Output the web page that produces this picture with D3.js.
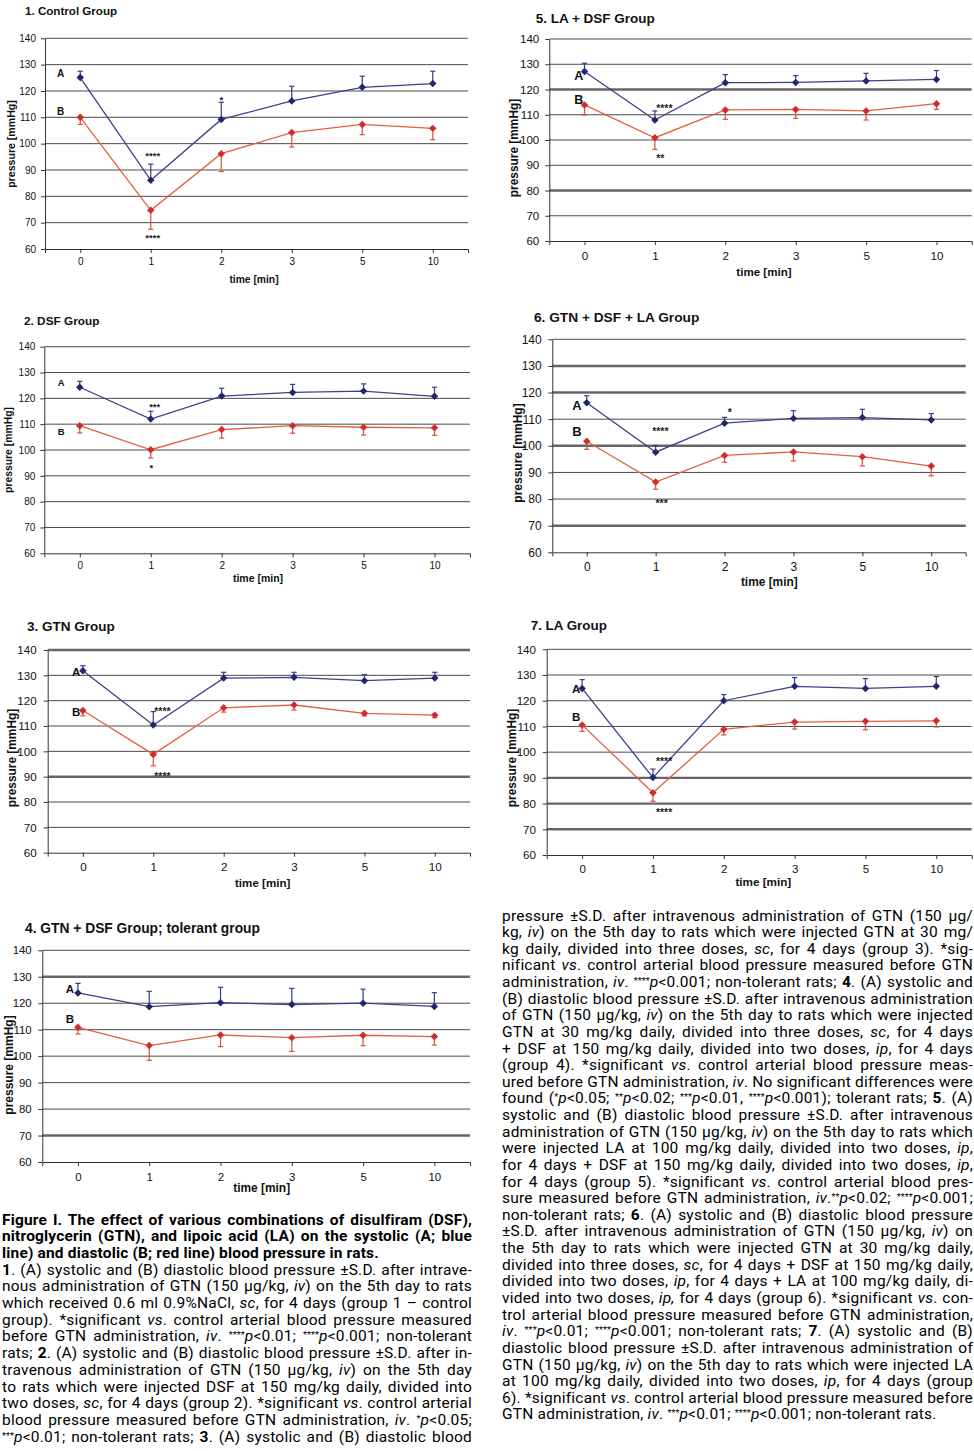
<!DOCTYPE html>
<html><head><meta charset="utf-8">
<script src="https://cdn.jsdelivr.net/npm/d3@7"></script>
<style>
body{margin:0;background:#fff;}
#wrap{position:relative;width:974px;height:1451px;overflow:hidden;background:#fff;}
svg{position:absolute;left:0;top:0;}
.cap{position:absolute;white-space:nowrap;font-family:Roboto,"Open Sans",sans-serif;font-size:14.1px;letter-spacing:0.2px;line-height:16.5px;color:#000;transform-origin:0 50%;}
.cap.head{letter-spacing:0.15px;}
.cap sup{font-size:0.6em;vertical-align:0.35em;line-height:0;letter-spacing:0;}
</style></head><body><div id="wrap"><svg id="chart" width="974" height="1451"></svg></div>
<script>
// ---------- data ----------
const times = ["0", "1", "2", "3", "5", "10"];
const yTicks = [60, 70, 80, 90, 100, 110, 120, 130, 140];
const panelTitles = ["1. Control Group", "2. DSF Group", "3. GTN Group",
  "4. GTN + DSF Group; tolerant group", "5. LA + DSF Group",
  "6. GTN + DSF + LA Group", "7. LA Group"];
const xAxisTitle = "time [min]";
const yAxisTitle = "pressure [mmHg]";
const seriesNames = ["A", "B"];

const systolic1 = [125.1, 86.1, 109.2, 116.2, 121.4, 122.8];
const systolicSD1 = [2.4, 6.1, 6.5, 5.6, 4.2, 4.7];
const diastolic1 = [110.0, 74.7, 96.2, 104.2, 107.3, 105.8];
const diastolicSD1 = [2.7, 7.2, 6.8, 5.5, 3.9, 4.3];
const stars1 = [["A", "1", "****", 96.0], ["A", "2", "*", 117.6], ["B", "1", "****", 65.1]];

const systolic2 = [124.3, 112.0, 120.9, 122.3, 122.8, 120.8];
const systolicSD2 = [2.3, 3.0, 3.0, 3.1, 2.8, 3.5];
const diastolic2 = [109.4, 100.1, 107.9, 109.4, 108.8, 108.6];
const diastolicSD2 = [2.8, 3.2, 3.3, 2.9, 3.0, 2.9];
const stars2 = [["A", "1", "***", 117.7], ["B", "1", "*", 93.8]];

const systolic3 = [131.8, 110.4, 128.9, 129.2, 127.9, 128.9];
const systolicSD3 = [2.0, 5.3, 2.3, 2.0, 2.4, 2.3];
const diastolic3 = [116.1, 98.8, 117.2, 118.3, 115.0, 114.3];
const diastolicSD3 = [2.1, 4.5, 1.7, 2.0, 1.0, 1.0];
const stars3 = [["A", "1", "****", 116.7], ["B", "1", "****", 91.1]];

const systolic4 = [123.9, 118.7, 120.2, 119.5, 120.0, 118.8];
const systolicSD4 = [3.6, 5.8, 5.8, 6.1, 5.3, 5.2];
const diastolic4 = [110.9, 104.0, 108.0, 107.0, 107.9, 107.4];
const diastolicSD4 = [2.5, 5.6, 4.4, 5.2, 3.9, 3.2];
const stars4 = [];

const systolic5 = [127.1, 107.9, 122.7, 122.8, 123.4, 124.0];
const systolicSD5 = [3.3, 3.6, 3.2, 2.7, 3.0, 3.5];
const diastolic5 = [113.9, 100.9, 111.9, 112.1, 111.5, 114.4];
const diastolicSD5 = [4.0, 4.6, 3.7, 3.5, 3.6, 2.3];
const stars5 = [["A", "1", "****", 113.5], ["B", "1", "**", 93.7]];

const systolic6 = [116.2, 97.6, 108.5, 110.3, 110.6, 109.7];
const systolicSD6 = [2.6, 2.5, 2.2, 2.9, 3.1, 2.4];
const diastolic6 = [101.7, 86.4, 96.4, 97.7, 95.9, 92.4];
const diastolicSD6 = [3.0, 2.7, 2.6, 3.4, 3.5, 3.7];
const stars6 = [["A", "1", "****", 106.2], ["A", "2", "*", 113.5], ["B", "1", "***", 79.0]];

const systolic7 = [124.8, 90.1, 120.0, 125.6, 124.8, 125.6];
const systolicSD7 = [3.4, 3.3, 2.4, 3.4, 3.8, 3.8];
const diastolic7 = [110.6, 84.2, 108.9, 111.7, 112.0, 112.2];
const diastolicSD7 = [2.5, 3.3, 2.2, 2.7, 3.3, 2.4];
const stars7 = [["A", "1", "****", 97.3], ["B", "1", "****", 77.4]];

const captionLeft = [
  "<b>Figure I. The effect of various combinations of disulfiram (DSF),</b>",
  "<b>nitroglycerin (GTN), and lipoic acid (LA) on the systolic (A; blue</b>",
  "<b>line) and diastolic (B; red line) blood pressure in rats.</b>",
  "<b>1</b>. (A) systolic and (B) diastolic blood pressure ±S.D. after intrave-",
  "nous administration of GTN (150 µg/kg, <i>iv</i>) on the 5th day to rats",
  "which received 0.6 ml 0.9%NaCl, <i>sc</i>, for 4 days (group 1 – control",
  "group). *significant <i>vs</i>. control arterial blood pressure measured",
  "before GTN administration, <i>iv</i>. <sup>****</sup><i>p</i>&lt;0.01; <sup>****</sup><i>p</i>&lt;0.001; non-tolerant",
  "rats; <b>2</b>. (A) systolic and (B) diastolic blood pressure ±S.D. after in-",
  "travenous administration of GTN (150 µg/kg, <i>iv</i>) on the 5th day",
  "to rats which were injected DSF at 150 mg/kg daily, divided into",
  "two doses, <i>sc</i>, for 4 days (group 2). *significant <i>vs</i>. control arterial",
  "blood pressure measured before GTN administration, <i>iv</i>. <sup>*</sup><i>p</i>&lt;0.05;",
  "<sup>***</sup><i>p</i>&lt;0.01; non-tolerant rats; <b>3</b>. (A) systolic and (B) diastolic blood"
];
const captionLeftHeadLines = [0, 1, 2];
const captionLeftUnjustified = [2];
const captionRight = [
  "pressure ±S.D. after intravenous administration of GTN (150 µg/",
  "kg, <i>iv</i>) on the 5th day to rats which were injected GTN at 30 mg/",
  "kg daily, divided into three doses, <i>sc</i>, for 4 days (group 3). *sig-",
  "nificant <i>vs</i>. control arterial blood pressure measured before GTN",
  "administration, <i>iv</i>. <sup>****</sup><i>p</i>&lt;0.001; non-tolerant rats; <b>4</b>. (A) systolic and",
  "(B) diastolic blood pressure ±S.D. after intravenous administration",
  "of GTN (150 µg/kg, <i>iv</i>) on the 5th day to rats which were injected",
  "GTN at 30 mg/kg daily, divided into three doses, <i>sc</i>, for 4 days",
  "+ DSF at 150 mg/kg daily, divided into two doses, <i>ip</i>, for 4 days",
  "(group 4). *significant <i>vs</i>. control arterial blood pressure meas-",
  "ured before GTN administration, <i>iv</i>. No significant differences were",
  "found (<sup>*</sup><i>p</i>&lt;0.05; <sup>**</sup><i>p</i>&lt;0.02; <sup>***</sup><i>p</i>&lt;0.01, <sup>****</sup><i>p</i>&lt;0.001); tolerant rats; <b>5</b>. (A)",
  "systolic and (B) diastolic blood pressure ±S.D. after intravenous",
  "administration of GTN (150 µg/kg, <i>iv</i>) on the 5th day to rats which",
  "were injected LA at 100 mg/kg daily, divided into two doses, <i>ip</i>,",
  "for 4 days + DSF at 150 mg/kg daily, divided into two doses, <i>ip</i>,",
  "for 4 days (group 5). *significant <i>vs</i>. control arterial blood pres-",
  "sure measured before GTN administration, <i>iv</i>.<sup>**</sup><i>p</i>&lt;0.02; <sup>****</sup><i>p</i>&lt;0.001;",
  "non-tolerant rats; <b>6</b>. (A) systolic and (B) diastolic blood pressure",
  "±S.D. after intravenous administration of GTN (150 µg/kg, <i>iv</i>) on",
  "the 5th day to rats which were injected GTN at 30 mg/kg daily,",
  "divided into three doses, <i>sc</i>, for 4 days + DSF at 150 mg/kg daily,",
  "divided into two doses, <i>ip</i>, for 4 days + LA at 100 mg/kg daily, di-",
  "vided into two doses, <i>ip,</i> for 4 days (group 6). *significant <i>vs</i>. con-",
  "trol arterial blood pressure measured before GTN administration,",
  "<i>iv</i>. <sup>***</sup><i>p</i>&lt;0.01; <sup>****</sup><i>p</i>&lt;0.001; non-tolerant rats; <b>7</b>. (A) systolic and (B)",
  "diastolic blood pressure ±S.D. after intravenous administration of",
  "GTN (150 µg/kg, <i>iv</i>) on the 5th day to rats which were injected LA",
  "at 100 mg/kg daily, divided into two doses, <i>ip</i>, for 4 days (group",
  "6). *significant <i>vs</i>. control arterial blood pressure measured before",
  "GTN administration, <i>iv</i>. <sup>***</sup><i>p</i>&lt;0.01; <sup>****</sup><i>p</i>&lt;0.001; non-tolerant rats."
];
const captionRightUnjustified = [30];

// ---------- layout (positions / styles only) ----------
const FONT = "'Liberation Sans', Arial, sans-serif";
const panels = [
  {title: panelTitles[0], sys: systolic1, sysSD: systolicSD1, dia: diastolic1, diaSD: diastolicSD1, stars: stars1,
   left: 45, right: 468, top: 38.3, bottom: 249, titlePos: [25, 11], titleFont: 11.6,
   tickFont: 10, yPad: 5, xLabOff: 12, xTitle: [254, 279], xTitleFont: 10.3, yTitle: [11, 144], yTitleFont: 10.6,
   labFont: 10, labA: [-19.7, -4.5], labB: [-19.7, -6.3], starFont: 9.5,
   starDx: {"A1": [2, "middle"], "A2": [0, "middle"], "B1": [2, "middle"]}, thick: []},
  {title: panelTitles[1], sys: systolic2, sysSD: systolicSD2, dia: diastolic2, diaSD: diastolicSD2, stars: stars2,
   left: 44.3, right: 470, top: 346.7, bottom: 553.3, titlePos: [24, 320.7], titleFont: 11.8,
   tickFont: 10, yPad: 5, xLabOff: 12.4, xTitle: [258, 578], xTitleFont: 10.5, yTitle: [8.2, 450], yTitleFont: 10.4,
   labFont: 9.5, labA: [-18.7, -4.5], labB: [-18.7, 6], starFont: 9.5,
   starDx: {"A1": [4, "middle"], "B1": [0.7, "middle"]}, thick: []},
  {title: panelTitles[2], sys: systolic3, sysSD: systolicSD3, dia: diastolic3, diaSD: diastolicSD3, stars: stars3,
   left: 47.7, right: 470, top: 650, bottom: 852.7, titlePos: [27, 626], titleFont: 13.5,
   tickFont: 11.6, yPad: 7, xLabOff: 14, xTitle: [262.7, 882.7], xTitleFont: 11.6, yTitle: [11.3, 758], yTitleFont: 11.9,
   labFont: 11.5, labA: [-6.7, 1.2], labB: [-6.7, 1.1], starFont: 10.5,
   starDx: {"A1": [1, "start"], "B1": [1, "start"]}, thick: [140, 90]},
  {title: panelTitles[3], sys: systolic4, sysSD: systolicSD4, dia: diastolic4, diaSD: diastolicSD4, stars: stars4,
   left: 42.3, right: 470, top: 950.3, bottom: 1162, titlePos: [25, 928], titleFont: 13.8,
   tickFont: 11.4, yPad: 6.6, xLabOff: 14.7, xTitle: [261.7, 1188], xTitleFont: 11.9, yTitle: [9, 1065], yTitleFont: 12,
   labFont: 11.5, labA: [-8, -3.9], labB: [-8, -8.6], starFont: 10.5, starDx: {}, thick: [130, 70]},
  {title: panelTitles[4], sys: systolic5, sysSD: systolicSD5, dia: diastolic5, diaSD: diastolicSD5, stars: stars5,
   left: 549.3, right: 971.7, top: 39, bottom: 241, titlePos: [535.7, 18.3], titleFont: 13.5,
   tickFont: 11.6, yPad: 6, xLabOff: 14.7, xTitle: [764, 271.7], xTitleFont: 11.6, yTitle: [513.3, 148], yTitleFont: 11.9,
   labFont: 12.5, labA: [-5.7, 4.4], labB: [-5.7, -5.9], starFont: 10.5,
   starDx: {"A1": [1.3, "start"], "B1": [1.3, "start"]}, thick: [120, 80]},
  {title: panelTitles[5], sys: systolic6, sysSD: systolicSD6, dia: diastolic6, diaSD: diastolicSD6, stars: stars6,
   left: 552.3, right: 965.7, top: 339.3, bottom: 552.3, titlePos: [534, 316.7], titleFont: 13.7,
   tickFont: 12, yPad: 6.6, xLabOff: 14.4, xTitle: [769.3, 581.7], xTitleFont: 11.9, yTitle: [518, 453], yTitleFont: 12,
   labFont: 13, labA: [-9.7, 2.3], labB: [-9.7, -9.6], starFont: 10.5,
   starDx: {"A1": [4.7, "middle"], "A2": [5.3, "middle"], "B1": [6, "middle"]}, thick: [130, 120, 100, 70]},
  {title: panelTitles[6], sys: systolic7, sysSD: systolicSD7, dia: diastolic7, diaSD: diastolicSD7, stars: stars7,
   left: 546.7, right: 971.7, top: 649.3, bottom: 855, titlePos: [530.7, 625], titleFont: 13.4,
   tickFont: 11.6, yPad: 6.7, xLabOff: 14.3, xTitle: [763.3, 881.7], xTitleFont: 11.7, yTitle: [512, 758], yTitleFont: 11.9,
   labFont: 11.5, labA: [-6, 0], labB: [-6, -8.2], starFont: 10.5,
   starDx: {"A1": [3, "start"], "B1": [3, "start"]}, thick: [90, 80, 70]}
];

const styleA = {line: "#3e3e8e", marker: "#22266a", err: "#3a3a86"};
const styleB = {line: "#e2603e", marker: "#d22b2b", err: "#d9503a"};

const svg = d3.select("#chart");

function drawPanel(p) {
  const g = svg.append("g");
  const x = d3.scalePoint().domain(times).range([p.left, p.right]).padding(0.5);
  const y = d3.scaleLinear().domain([60, 140]).range([p.bottom, p.top]);

  g.append("text").attr("x", p.titlePos[0]).attr("y", p.titlePos[1]).attr("dy", "0.36em")
    .attr("font-family", FONT).attr("font-weight", "bold").attr("font-size", p.titleFont)
    .attr("fill", "#111").text(p.title);

  g.append("g").selectAll("line").data(yTicks.filter(d => d !== 60)).join("line")
    .attr("x1", p.left).attr("x2", p.right)
    .attr("y1", d => y(d)).attr("y2", d => y(d))
    .attr("stroke", d => p.thick.includes(d) ? "#666" : "#4a4a4a")
    .attr("stroke-width", d => p.thick.includes(d) ? 2.4 : 1);

  const ya = g.append("g").attr("transform", `translate(${p.left},0)`)
    .call(d3.axisLeft(y).tickValues(yTicks).tickSize(4).tickSizeOuter(0).tickPadding(p.yPad));
  ya.select(".domain").attr("stroke", "#333");
  ya.selectAll(".tick line").attr("stroke", "#333");
  ya.selectAll("text").attr("font-family", FONT).attr("font-size", p.tickFont).attr("fill", "#111");

  const xa = g.append("g").attr("transform", `translate(0,${p.bottom})`)
    .call(d3.axisBottom(x).tickSize(4).tickSizeOuter(4));
  xa.select(".domain").attr("stroke", "#333");
  xa.selectAll(".tick line").attr("stroke", "#333");
  xa.selectAll("text").attr("font-family", FONT).attr("font-size", p.tickFont).attr("fill", "#111")
    .attr("y", p.xLabOff).attr("dy", "0.36em");

  g.append("text").attr("x", p.xTitle[0]).attr("y", p.xTitle[1]).attr("dy", "0.36em")
    .attr("text-anchor", "middle").attr("font-family", FONT).attr("font-weight", "bold")
    .attr("font-size", p.xTitleFont).attr("fill", "#111").text(xAxisTitle);
  g.append("text").attr("transform", `translate(${p.yTitle[0]},${p.yTitle[1]}) rotate(-90)`)
    .attr("dy", "0.36em").attr("text-anchor", "middle").attr("font-family", FONT)
    .attr("font-weight", "bold").attr("font-size", p.yTitleFont).attr("fill", "#111").text(yAxisTitle);

  const series = [
    {name: seriesNames[0], vals: p.sys, sd: p.sysSD, dir: 1, st: styleA, lab: p.labA},
    {name: seriesNames[1], vals: p.dia, sd: p.diaSD, dir: -1, st: styleB, lab: p.labB}
  ];
  const line = d3.line().x(d => x(d.t)).y(d => y(d.v));
  const diamond = d3.symbol().type(d3.symbolSquare).size(28);

  series.forEach(s => {
    const pts = times.map((t, i) => ({t, v: s.vals[i], sd: s.sd[i]}));
    const sg = g.append("g");
    sg.append("path").datum(pts).attr("d", line).attr("fill", "none")
      .attr("stroke", s.st.line).attr("stroke-width", 1.3);
    const eb = sg.selectAll(".eb").data(pts).join("g");
    eb.append("line").attr("x1", d => x(d.t)).attr("x2", d => x(d.t))
      .attr("y1", d => y(d.v)).attr("y2", d => y(d.v + s.dir * d.sd))
      .attr("stroke", s.st.err).attr("stroke-width", 1.2);
    eb.append("line").attr("x1", d => x(d.t) - 2.6).attr("x2", d => x(d.t) + 2.6)
      .attr("y1", d => y(d.v + s.dir * d.sd)).attr("y2", d => y(d.v + s.dir * d.sd))
      .attr("stroke", s.st.err).attr("stroke-width", 1.2);
    sg.selectAll(".mk").data(pts).join("path").attr("d", diamond)
      .attr("transform", d => `translate(${x(d.t)},${y(d.v)}) rotate(45)`)
      .attr("fill", s.st.marker);
    g.append("text").attr("x", x(times[0]) + s.lab[0]).attr("y", y(s.vals[0]) + s.lab[1])
      .attr("dy", "0.36em").attr("text-anchor", "middle").attr("font-family", FONT)
      .attr("font-weight", "bold").attr("font-size", p.labFont).attr("fill", "#111").text(s.name);
  });

  p.stars.forEach(([ser, t, txt, v]) => {
    const o = p.starDx[ser + t] || [0, "middle"];
    g.append("text").attr("x", x(t) + o[0]).attr("y", y(v)).attr("dy", "0.55em")
      .attr("text-anchor", o[1]).attr("font-family", FONT).attr("font-weight", "bold")
      .attr("font-size", p.starFont).attr("fill", "#222").text(txt);
  });
}
panels.forEach(drawPanel);

// ---------- caption ----------
const CAP_SCALE = 1.1;
function drawCaption(lines, unjust, heads, left, width, firstCenter, step) {
  const wrap = document.getElementById("wrap");
  lines.forEach((html, i) => {
    const d = document.createElement("div");
    d.className = heads.includes(i) ? "cap head" : "cap";
    d.innerHTML = html;
    d.style.left = left + "px";
    d.style.top = (firstCenter + i * step - 8.5) + "px";
    d.style.transform = `scaleX(${CAP_SCALE})`;
    wrap.appendChild(d);
    if (!unjust.includes(i)) {
      const w = d.getBoundingClientRect().width;
      const n = (d.textContent.match(/ /g) || []).length;
      if (n > 0) d.style.wordSpacing = ((width - w) / n / CAP_SCALE) + "px";
    }
  });
}
drawCaption(captionLeft, captionLeftUnjustified, captionLeftHeadLines, 2, 470, 1220, 16.7);
drawCaption(captionRight, captionRightUnjustified, [], 502, 471, 916, 16.63);
</script></body></html>
